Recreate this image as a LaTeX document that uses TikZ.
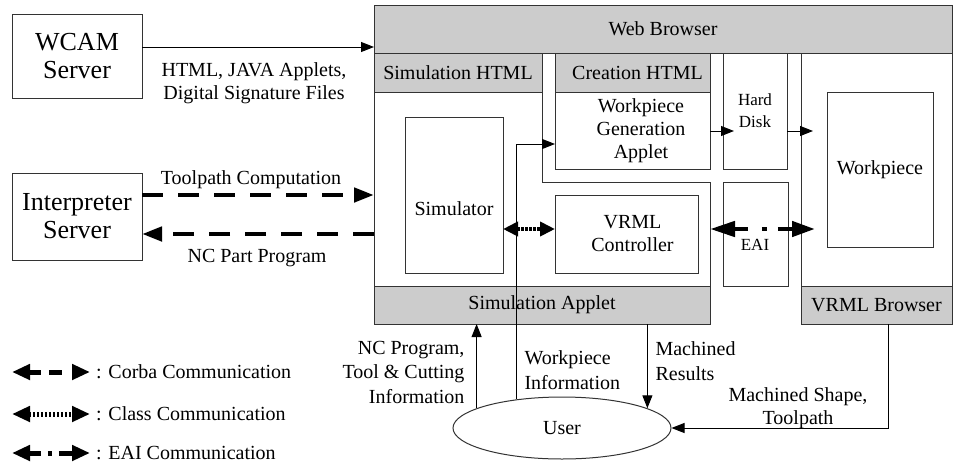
\documentclass[tikz,border=0pt]{standalone}
\usepackage{fontspec}
\setmainfont{Liberation Serif}
\usetikzlibrary{arrows.meta,shapes.geometric,calc}
\begin{document}
\begin{tikzpicture}[x=1pt,y=-1pt,
  lab/.style={font=\fontsize{20}{23}\selectfont},
  labw/.style={font=\fontsize{20}{24.5}\selectfont},
  big/.style={font=\fontsize{26}{28}\selectfont},
  small/.style={font=\fontsize{17}{22}\selectfont},
  bx/.style={draw=black!80, line width=1pt, anchor=north west, inner sep=0pt, outer sep=0pt},
  band/.style={bx, fill=black!20},
  ln/.style={draw=black!80, line width=1pt},
  ar/.style={line width=1pt, -{Triangle[length=13pt,width=10pt]}},
  corba/.style={line width=4.5pt, dash pattern=on 21pt off 15pt, -{Triangle[length=20pt,width=14pt]}},
  classc/.style={line width=4.5pt, dash pattern=on 2.5pt off 1.5pt, {Triangle[length=15pt,width=14pt]}-{Triangle[length=15pt,width=14pt]}},
  eaic/.style={line width=4.5pt, dash pattern=on 14pt off 14pt on 5pt off 11pt, {Triangle[length=25pt,width=15pt]}-{Triangle[length=23pt,width=15pt]}},
  lhead/.style={{Triangle[length=18pt,width=15pt]}-{Triangle[length=18pt,width=15pt]}},
  lcorba/.style={lhead, line width=5pt, dash pattern=on 12pt off 8pt on 13pt off 20pt},
  lclass/.style={lhead, line width=5pt, dash pattern=on 2.5pt off 1.5pt},
  leai/.style={lhead, line width=5pt, dash pattern=on 12pt off 7pt on 4pt off 7pt on 14pt off 10pt}
]
\useasboundingbox (0,0) rectangle (956,464);

% servers
\node[bx, minimum width=130, minimum height=84, big, align=center] (wcam) at (12,14) {WCAM\\Server};
\node[bx, minimum width=130, minimum height=87, big, align=center] (interp) at (12,173) {Interpreter\\Server};

% web browser
\draw[ln] (374,53) -- (542,53) -- (542,182) -- (710,182) -- (710,324) -- (374,324) -- cycle;
\draw[ln] (801,53) rectangle (952,324);
\node[band, minimum width=578, minimum height=48, lab] (web) at (374,5) {Web Browser};
\node[band, minimum width=168, minimum height=39, lab] (simhtml) at (374,53) {Simulation HTML};
\node[bx, minimum width=155, minimum height=116] (crea) at (555,53) {};
\node[band, minimum width=155, minimum height=39, lab] (creahtml) at (555,53) {\hspace{10pt}Creation HTML};
\node[lab, align=center] (gen) at (641,131) {Workpiece\\Generation\\Applet};
\node[bx, minimum width=64, minimum height=116, small, align=center] (hd) at (723,53) {Hard\\Disk};
\node[bx, minimum width=65, minimum height=104] (eai) at (723,182) {};
\node[small] (eaitext) at (755,245) {EAI};
\node[bx, minimum width=106, minimum height=155, lab] (wp) at (827,92) {Workpiece};
\node[bx, minimum width=98, minimum height=156] (sim) at (405,117) {};
\node[lab] (simtext) at (454,209) {Simulator};
\node[bx, minimum width=143, minimum height=78, lab, align=center] (ctrl) at (555,195) {\hspace{12pt}VRML\\\hspace{12pt}Controller};
\node[band, minimum width=336, minimum height=38, lab] (simapp) at (374,286) {Simulation Applet};
\node[band, minimum width=151, minimum height=38, lab] (vrmlb) at (801,286) {VRML Browser};

% user
\node[draw=black!80, line width=1pt, ellipse, minimum width=218, minimum height=62, inner sep=0pt, lab] (user) at (562,428) {User};

% coordinates
\coordinate (wpin) at (555,144);
\coordinate (eaiL) at (710,229);
\coordinate (eaiR) at (815,229);
\coordinate (vbx) at (888,324);

% connectors
\draw[ar] ([yshift=9pt]wcam.east) -- ([yshift=9pt]wcam.east -| web.west);
\node[lab, align=center] (htmllab) at (254,83) {HTML, JAVA Applets,\\Digital Signature Files};

\draw[corba] ([yshift=21.5pt]interp.east) -- ([yshift=21.5pt]interp.east -| web.west);
\node[lab] (tplab) at (251,180) {Toolpath Computation};
\draw[corba] ([yshift=-17.5pt]interp.east -| web.west) -- ([yshift=-17.5pt]interp.east);
\node[lab] (nclab) at (257,258) {NC Part Program};

\draw[classc] ([yshift=-34pt]sim.east) -- ([yshift=-34pt]sim.east -| ctrl.west);
\draw[eaic] (eaiL) -- (eaiR);

\draw[ar] ([yshift=-20pt]crea.east) -- ++(24,0);
\draw[ar] ([yshift=-20pt]hd.east) -- ++(26,0);

\draw[ar] (user.148.6) |- (wpin);
\draw[ar] (user.167.9) -- (user.167.9 |- simapp.south);
\draw[ar] (user.13.6 |- simapp.south) -- (user.13.6);
\draw[ar] (vbx) |- (user.east);

\node[labw, align=right, anchor=east] (ncprog) at (468,372) {NC Program,\\Tool \& Cutting\\Information};
\node[labw, align=left, anchor=west] (wpinfo) at (521,370) {Workpiece\\Information};
\node[labw, align=left, anchor=west] (machres) at (652,361) {Machined\\Results};
\node[lab, align=center] (machshape) at (798,408) {Machined Shape,\\Toolpath};

% legend
\coordinate (l1a) at (12,372); \coordinate (l1b) at (90,372);
\coordinate (l2a) at (12,414); \coordinate (l2b) at (90,414);
\coordinate (l3a) at (12,453); \coordinate (l3b) at (90,453);
\draw[lcorba] (l1a) -- (l1b);
\draw[lclass] (l2a) -- (l2b);
\draw[leai] (l3a) -- (l3b);
\node[lab, anchor=west, inner sep=0pt] (leg1) at (96,372) {: Corba Communication};
\node[lab, anchor=west, inner sep=0pt] (leg2) at (96,414) {: Class Communication};
\node[lab, anchor=west, inner sep=0pt] (leg3) at (96,453) {: EAI Communication};
\end{tikzpicture}
\end{document}
